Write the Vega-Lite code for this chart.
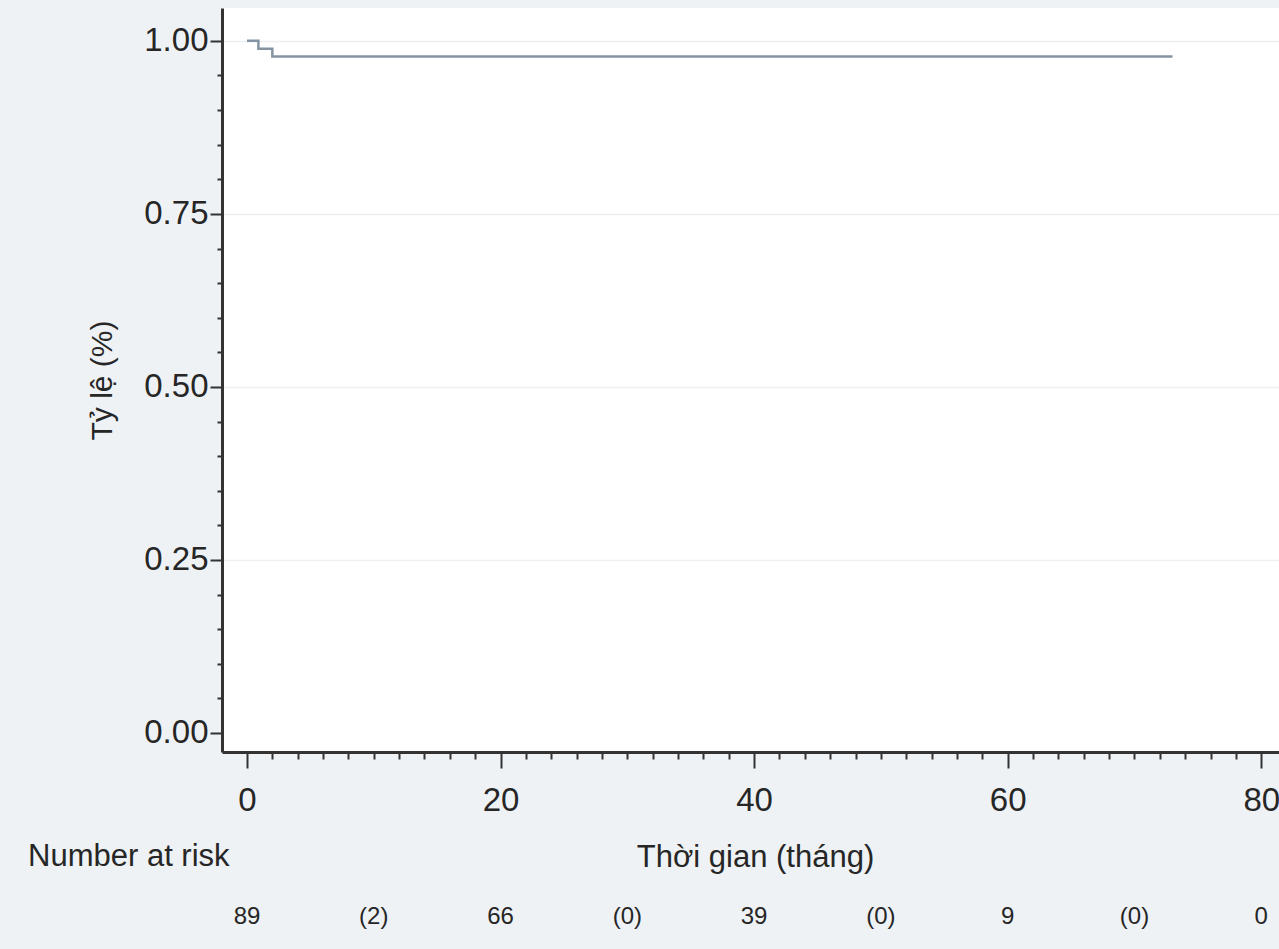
{
  "$schema": "https://vega.github.io/schema/vega-lite/v6.json",
  "width": 1057,
  "height": 744,
  "autosize": {"type": "none"},
  "padding": {"left": 222, "top": 8, "right": 0, "bottom": 197},
  "background": "#eef2f5",
  "config": {"font": "Liberation Sans", "view": {"fill": "white", "stroke": null}},
  "datasets": {
    "km": [
      {"time": 0, "surv": 1.0},
      {"time": 0.9, "surv": 0.9888},
      {"time": 2.0, "surv": 0.9775},
      {"time": 73, "surv": 0.9775}
    ],
    "risk": [
      {"time": 0, "n": "89"},
      {"time": 10, "n": "(2)"},
      {"time": 20, "n": "66"},
      {"time": 30, "n": "(0)"},
      {"time": 40, "n": "39"},
      {"time": 50, "n": "(0)"},
      {"time": 60, "n": "9"},
      {"time": 70, "n": "(0)"},
      {"time": 80, "n": "0"}
    ],
    "lab": [{"t": "Number at risk"}]
  },
  "layer": [
    {
      "data": {"name": "km"},
      "mark": {"type": "line", "interpolate": "step-after", "color": "#8494a3", "strokeWidth": 2.5, "clip": false},
      "encoding": {
        "x": {
          "field": "time", "type": "quantitative",
          "scale": {"domain": [-1.97, 81.4], "nice": false, "zero": false},
          "axis": {
            "values": [0,2,4,6,8,10,12,14,16,18,20,22,24,26,28,30,32,34,36,38,40,42,44,46,48,50,52,54,56,58,60,62,64,66,68,70,72,74,76,78,80],
            "tickCount": 200,
            "labelExpr": "datum.value % 20 === 0 ? format(datum.value, 'd') : ''",
            "labelOverlap": false,
            "labelFlush": false,
            "labelFontSize": 33,
            "labelColor": "#262626",
            "labelPadding": 16,
            "tickSize": {"condition": {"test": "datum.value % 20 === 0", "value": 16}, "value": 7},
            "tickColor": "#333333",
            "tickWidth": 2,
            "domainColor": "#333333",
            "domainWidth": 3,
            "grid": false,
            "title": "Thời gian (tháng)",
            "titleFontSize": 31,
            "titleFontWeight": "normal",
            "titleColor": "#262626",
            "titlePadding": 25,
            "titleX": 533
          }
        },
        "y": {
          "field": "surv", "type": "quantitative",
          "scale": {"domain": [-0.0275, 1.0475], "nice": false, "zero": false},
          "axis": {
            "values": [0,0.05,0.1,0.15,0.2,0.25,0.3,0.35,0.4,0.45,0.5,0.55,0.6,0.65,0.7,0.75,0.8,0.85,0.9,0.95,1],
            "tickCount": 200,
            "labelExpr": "round(datum.value*100) % 25 === 0 ? format(datum.value, '.2f') : ''",
            "labelOverlap": false,
            "labelFlush": false,
            "labelFontSize": 33,
            "labelColor": "#262626",
            "labelPadding": 2,
            "tickSize": {"condition": {"test": "round(datum.value*100) % 25 === 0", "value": 12}, "value": 5},
            "tickColor": "#333333",
            "tickWidth": 2,
            "domainColor": "#333333",
            "domainWidth": 3,
            "grid": true,
            "gridColor": "#edf0f3",
            "gridWidth": 1.5,
            "gridOpacity": {"condition": {"test": "round(datum.value*100) % 25 === 0 && datum.value > 0", "value": 1}, "value": 0},
            "title": "Tỷ lệ (%)",
            "titleFontSize": 30,
            "titleFontWeight": "normal",
            "titleColor": "#262626",
            "titlePadding": 26
          }
        }
      }
    },
    {
      "data": {"name": "risk"},
      "mark": {"type": "text", "fontSize": 24, "color": "#262626", "align": "center", "baseline": "middle", "clip": false},
      "encoding": {
        "x": {"field": "time", "type": "quantitative"},
        "y": {"datum": -0.266},
        "text": {"field": "n"}
      }
    },
    {
      "data": {"name": "lab"},
      "mark": {"type": "text", "fontSize": 31, "color": "#262626", "align": "left", "baseline": "middle", "clip": false},
      "encoding": {
        "x": {"datum": -17.27},
        "y": {"datum": -0.179},
        "text": {"field": "t"}
      }
    }
  ]
}
